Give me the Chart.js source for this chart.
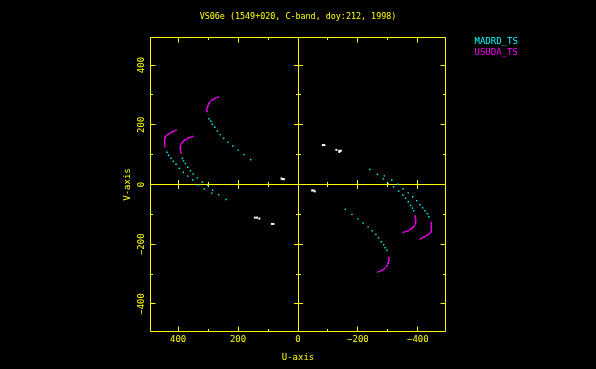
<!DOCTYPE html>
<html><head><meta charset="utf-8">
<script src="https://cdn.jsdelivr.net/npm/chart.js@4.4.0/dist/chart.umd.min.js"></script>
<style>html,body{margin:0;padding:0;background:#000;overflow:hidden}canvas{display:block}</style>
</head><body><canvas id="c" width="596" height="369"></canvas>
<script>
// ---------- data ----------
const titleText = 'VS06e (1549+020, C-band, doy:212, 1998)';
const xAxisTitle = 'U-axis';
const yAxisTitle = 'V-axis';
const legendLabels = ['MADRD_TS', 'USUDA_TS'];
const axisMin = -494;
const axisMax = 494;
const majorTicks = [-400, -200, 0, 200, 400];
const minorTicks = [-300, -100, 100, 300];

// MADRD_TS points [U, V]
const madrdPoints = [
  [297,220],[291,212],[286,202],[278,192],[269,179],[260,167],[248,155],[234,142],[217,129],[200,115],[180,100],[158,83],
  [437,108],[432,98],[424,88],[416,78],[407,68],[396,54],[383,41],[368,28],[351,15],[333,-1],[313,-15],[288,-29],[265,-34],[240,-50],
  [386,88],[382,79],[376,70],[368,58],[359,46],[350,35],[336,22],[319,8],[301,-3],[285,-19],
  [-297,-220],[-291,-212],[-286,-202],[-278,-192],[-269,-179],[-260,-167],[-248,-155],[-234,-142],[-217,-129],[-200,-115],[-180,-100],[-158,-83],
  [-437,-108],[-432,-98],[-424,-88],[-416,-78],[-407,-68],[-396,-54],[-383,-41],[-368,-28],[-351,-15],[-333,1],[-313,15],[-288,29],[-265,34],[-240,50],
  [-386,-88],[-382,-79],[-376,-70],[-368,-58],[-359,-46],[-350,-35],[-336,-22],[-319,-8],[-301,3],[-285,19]
];

// USUDA_TS points [U, V]
const usudaPoints = [
  [266,293],[271,291],[276,289],[280,287],[284,285],[287,283],[290,280],[294,276],[296,273],[298,270],[300,265],[301,262],[303,257],[304,253],[304,247],[303,244],
  [407,182],[412,180],[416,178],[420,176],[423,175],[427,172],[431,170],[434,168],[437,166],[441,162],[443,160],[444,157],[445,153],[445,149],[445,145],[445,140],[445,136],[445,131],[444,126],
  [351,161],[356,159],[360,157],[365,156],[368,155],[373,152],[376,150],[379,148],[383,145],[385,142],[387,139],[390,136],[392,131],[393,127],[393,122],[393,118],[392,113],[391,109],[391,105],
  [-266,-293],[-271,-291],[-276,-289],[-280,-287],[-284,-285],[-287,-283],[-290,-280],[-294,-276],[-296,-273],[-298,-270],[-300,-265],[-301,-262],[-303,-257],[-304,-253],[-304,-247],[-303,-244],
  [-407,-182],[-412,-180],[-416,-178],[-420,-176],[-423,-175],[-427,-172],[-431,-170],[-434,-168],[-437,-166],[-441,-162],[-443,-160],[-444,-157],[-445,-153],[-445,-149],[-445,-145],[-445,-140],[-445,-136],[-445,-131],[-444,-126],
  [-351,-161],[-356,-159],[-360,-157],[-365,-156],[-368,-155],[-373,-152],[-376,-150],[-379,-148],[-383,-145],[-385,-142],[-387,-139],[-390,-136],[-392,-131],[-393,-127],[-393,-122],[-393,-118],[-392,-113],[-391,-109],[-391,-105]
];

// short-baseline points (white, not in legend) [U, V]
const otherPoints = [
  [-83,132],[-88,132],
  [87,-132],[82,-132],
  [-128,116],[-138,113],[-143,113],[-138,109],
  [144,-111],[137,-111],[129,-114],
  [52,18],[47,18],[55,20],
  [-47,-20],[-52,-20],[-56,-23]
];

// ---------- drawing ----------
const YELLOW = '#ffff00';
const MONO = '"DejaVu Sans Mono", "Liberation Mono", monospace';
const toXY = arr => arr.map(p => ({x: p[0], y: p[1]}));
const fmt = v => (v < 0 ? '\u2212' + Math.abs(v) : String(v));

const pgPlugin = {
  id: 'pgAxes',
  beforeDraw(chart) {
    const ctx = chart.ctx;
    ctx.save();
    ctx.fillStyle = '#000';
    ctx.fillRect(0, 0, chart.width, chart.height);
    ctx.restore();
  },
  beforeDatasetsDraw(chart) {
    const {ctx, chartArea: a, scales: {x, y}} = chart;
    ctx.save();
    ctx.strokeStyle = YELLOW;
    ctx.lineWidth = 1;
    const L = a.left + 0.5, R = a.right - 0.5, T = a.top + 0.5, B = a.bottom - 0.5;
    const sx = v => Math.floor(x.getPixelForValue(v)) + 0.5;
    const sy = v => Math.floor(y.getPixelForValue(v)) + 0.5;
    const x0 = sx(0), y0 = sy(0);
    ctx.beginPath();
    ctx.rect(L, T, R - L, B - T);
    ctx.moveTo(x0, T); ctx.lineTo(x0, B);
    ctx.moveTo(L, y0); ctx.lineTo(R, y0);
    const tick = (v, edge, mid) => {
      const px = sx(v), py = sy(v);
      ctx.moveTo(px, B); ctx.lineTo(px, B - edge);
      ctx.moveTo(px, T); ctx.lineTo(px, T + edge);
      ctx.moveTo(L, py); ctx.lineTo(L + edge, py);
      ctx.moveTo(R, py); ctx.lineTo(R - edge, py);
      ctx.moveTo(px, y0 - mid); ctx.lineTo(px, y0 + mid);
      ctx.moveTo(x0 - mid, py); ctx.lineTo(x0 + mid, py);
    };
    majorTicks.forEach(v => tick(v, 5, 4.5));
    minorTicks.forEach(v => tick(v, 2.5, 2.5));
    ctx.stroke();

    // tick labels and axis titles
    ctx.fillStyle = YELLOW;
    ctx.font = '9px ' + MONO;
    ctx.textAlign = 'center';
    ctx.textBaseline = 'middle';
    majorTicks.forEach(v => {
      ctx.fillText(fmt(v), x.getPixelForValue(v), 340);
    });
    ctx.fillText(xAxisTitle, (a.left + a.right) / 2, 358);
    majorTicks.forEach(v => {
      ctx.save();
      ctx.translate(141.7, y.getPixelForValue(v));
      ctx.rotate(-Math.PI / 2);
      ctx.fillText(fmt(v), 0, 0);
      ctx.restore();
    });
    ctx.save();
    ctx.translate(128, (a.top + a.bottom) / 2);
    ctx.rotate(-Math.PI / 2);
    ctx.fillText(yAxisTitle, 0, 0);
    ctx.restore();

    // legend (text coloured like its dataset)
    ctx.textAlign = 'left';
    let ly = 42;
    chart.data.datasets.forEach(ds => {
      if (!legendLabels.includes(ds.label)) return;
      ctx.fillStyle = ds.backgroundColor;
      ctx.fillText(ds.label, 474.5, ly);
      ly += 10.3;
    });
    ctx.restore();
  }
};

const pointOpts = {pointStyle: 'rect', pointRadius: 1.0, pointBorderWidth: 0, pointHoverRadius: 1.0, showLine: false};

new Chart(document.getElementById('c'), {
  type: 'scatter',
  data: {
    datasets: [
      Object.assign({label: legendLabels[0], data: toXY(madrdPoints), backgroundColor: '#00ffff', borderColor: '#00ffff'}, pointOpts),
      Object.assign({label: legendLabels[1], data: toXY(usudaPoints), backgroundColor: '#ff00ff', borderColor: '#ff00ff'}, pointOpts),
      Object.assign({label: 'short', data: toXY(otherPoints), backgroundColor: '#ffffff', borderColor: '#ffffff', pointRadius: 1.4}, {pointStyle: 'rect', pointBorderWidth: 0, showLine: false})
    ]
  },
  options: {
    responsive: false,
    animation: false,
    devicePixelRatio: 1,
    layout: {padding: {left: 150, right: 150, top: 0, bottom: 37}},
    scales: {
      x: {type: 'linear', reverse: true, min: axisMin, max: axisMax, display: false},
      y: {type: 'linear', min: axisMin, max: axisMax, display: false}
    },
    plugins: {
      legend: {display: false},
      tooltip: {enabled: false},
      title: {
        display: true,
        text: titleText,
        color: YELLOW,
        font: {family: MONO, size: 8.4, weight: 'normal'},
        padding: {top: 11.66, bottom: 15.26}
      }
    }
  },
  plugins: [pgPlugin]
});
</script>
</body></html>
